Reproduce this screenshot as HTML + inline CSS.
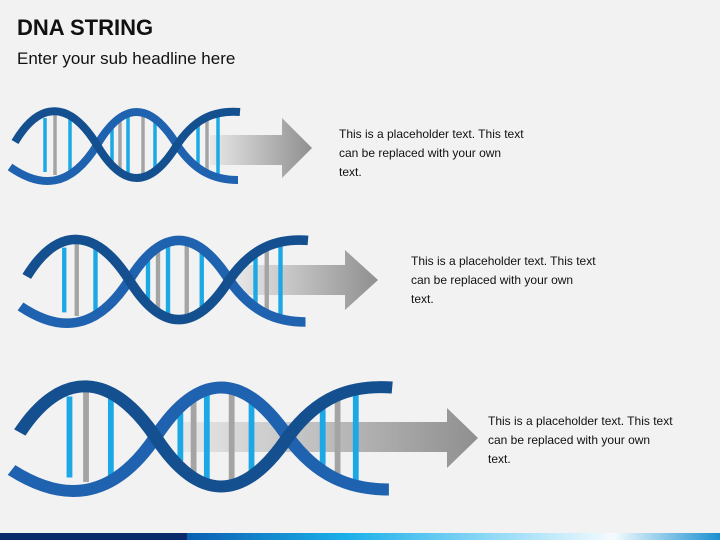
<!DOCTYPE html>
<html><head><meta charset="utf-8"><style>
html,body{margin:0;padding:0;background:#f2f2f2}
body{width:720px;height:540px;position:relative;overflow:hidden;font-family:"Liberation Sans",sans-serif}
.t{position:absolute;font-size:12px;line-height:19px;color:#111}
</style></head><body>
<div style="position:absolute;left:17px;top:15px;font-size:22px;font-weight:bold;color:#111">DNA STRING</div>
<div style="position:absolute;left:17px;top:49px;font-size:17px;color:#111">Enter your sub headline here</div>
<div class="t" style="left:339px;top:125px">This is a placeholder text. This text<br>can be replaced with your own<br>text.</div>
<div class="t" style="left:411px;top:252px">This is a placeholder text. This text<br>can be replaced with your own<br>text.</div>
<div class="t" style="left:488px;top:412px">This is a placeholder text. This text<br>can be replaced with your own<br>text.</div>
<svg width="720" height="540" style="position:absolute;left:0;top:0">
<defs>
<linearGradient id="ag" x1="0" x2="1" y1="0" y2="0"><stop offset="0" stop-color="#e8e8e8"/><stop offset="1" stop-color="#8f8f8f"/></linearGradient>
<linearGradient id="bar" x1="0" x2="1"><stop offset="0" stop-color="#0a5fb0"/><stop offset="0.3" stop-color="#1ab0ea"/><stop offset="0.8" stop-color="#f4fbff"/><stop offset="1" stop-color="#1a90d0"/></linearGradient>
<g id="helix">
<g stroke-width="3.5">
<line x1="45" y1="118" x2="45" y2="172" stroke="#1ba8e4"/>
<line x1="55" y1="115" x2="55" y2="175" stroke="#a4a4a4"/>
<line x1="70" y1="118" x2="70" y2="172" stroke="#1ba8e4"/>
<line x1="112" y1="129" x2="112" y2="161" stroke="#1ba8e4"/>
<line x1="120" y1="121" x2="120" y2="169" stroke="#a4a4a4"/>
<line x1="128" y1="117" x2="128" y2="173" stroke="#1ba8e4"/>
<line x1="143" y1="116" x2="143" y2="174" stroke="#a4a4a4"/>
<line x1="155" y1="122" x2="155" y2="168" stroke="#1ba8e4"/>
<line x1="198" y1="123" x2="198" y2="167" stroke="#1ba8e4"/>
<line x1="207" y1="118" x2="207" y2="172" stroke="#a4a4a4"/>
<line x1="218" y1="115" x2="218" y2="175" stroke="#1ba8e4"/>
</g>
<g fill="none" stroke-width="8" stroke-linecap="butt">
<path d="M10,167 C40,188 70,189 97,145 C123,101 150,101 177,145 C195,172 215,180 238,180" stroke="#1f62b0"/>
<path d="M15,142 C40,100 70,101 97,145 C123,189 150,189 177,145 C195,118 215,110 240,112" stroke="#14508f"/>
</g>
</g>
</defs>
<polygon points="210,135 282,135 282,118 312,148 282,178 282,165 210,165" fill="url(#ag)"/>
<polygon points="235,265 345,265 345,250 378,280 345,310 345,295 235,295" fill="url(#ag)"/>
<polygon points="180,422 447,422 447,408 478,438 447,468 447,452 180,452" fill="url(#ag)"/>
<use href="#helix"/>
<use href="#helix" transform="translate(8,106) scale(1.25,1.2)"/>
<use href="#helix" transform="translate(-5,219.5) scale(1.655,1.5)"/>
<rect x="0" y="533" width="187" height="7" fill="#0b2a6b"/>
<rect x="187" y="533" width="533" height="7" fill="url(#bar)"/>
</svg>
</body></html>
